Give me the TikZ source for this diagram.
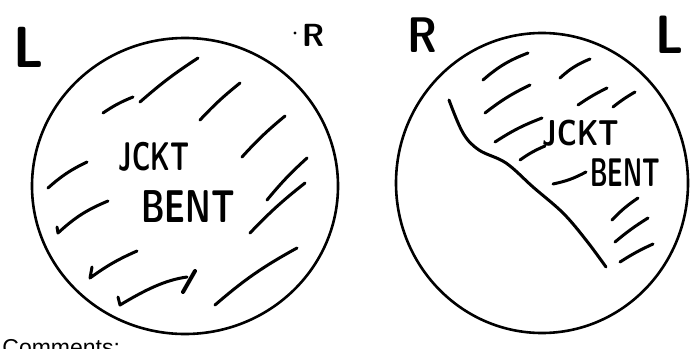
\documentclass[tikz,border=0pt]{standalone}
\usepackage{graphicx}
\usepackage{fontspec}
\newfontfamily\formfont{Liberation Sans}
\definecolor{ink}{RGB}{0,0,0}
\tikzset{
  rim/.style={ink, line width=2.6pt},
  hatch/.style={ink, line width=3pt, line cap=round, line join=round},
  scrawl/.style={ink, inner sep=0pt, font=\sffamily\bfseries\fontsize{#1}{#1}\selectfont},
  scrawl/.default=30
}
\newcommand{\narrow}[2]{\scalebox{#1}[1]{#2}}
\begin{document}
\begin{tikzpicture}[x=1pt, y=-1pt, thick]
\useasboundingbox (0,0) rectangle (692,348);

% left view
\draw[rim] (185,186) ellipse [x radius=153, y radius=148];
\node[scrawl=58] (leftL) at (29,47) {\narrow{0.9}{L}};
\fill[ink] (295,33) circle (1.6);
\node[scrawl=32] (leftR) at (313,35) {R};

\draw[hatch] (103,113) to[bend left=6] (133,97);
\draw[hatch] (140,102) to[bend left=4] (198,58);
\draw[hatch] (200,120) to[bend left=4] (240,83);
\draw[hatch] (242,157) to[bend left=4] (285,116);
\draw[hatch] (48,188) to[bend left=8] (87,162);
\draw[hatch] (267,200) to[bend left=4] (307,158);
\draw[hatch] (250,233) to[bend left=4] (305,183);
\draw[hatch] (215,305) to[bend left=6] (297,248);
\draw[hatch] (57,227) -- (58,233) to[bend left=10] (108,201);
\draw[hatch] (92,267) -- (90,278) to[bend left=6] (137,251);
\draw[hatch] (118,297) -- (120,305) .. controls (145,290) and (165,280) .. (187,277);
\draw[hatch, line width=4pt] (195,271) -- (183,292);

\node[scrawl=40] (leftjckt) at (154,157) {\narrow{0.65}{JCKT}};
\node[scrawl=46] (leftbent) at (188,207) {\narrow{0.7}{BENT}};

% right view
\draw[rim] (542,183) ellipse [x radius=146, y radius=150];
\node[scrawl=50] (rightR) at (422,35) {\narrow{0.85}{R}};
\node[scrawl=54] (rightL) at (670,35) {\narrow{0.9}{L}};

\draw[hatch] plot[smooth, tension=0.6] coordinates {(449,100) (463,133) (479,150) (506,163) (533,187) (563,213) (586,240) (606,267)};

\draw[hatch] (483,80) to[bend left=10] (528,53);
\draw[hatch] (560,78) to[bend left=10] (590,59);
\draw[hatch] (485,113) to[bend left=6] (530,85);
\draw[hatch] (578,105) to[bend left=4] (607,88);
\draw[hatch] (613,107) to[bend left=4] (635,92);
\draw[hatch] (495,142) to[bend left=6] (542,118);
\draw[hatch] (520,160) to[bend left=6] (545,146);
\draw[hatch] (553,184) to[bend right=8] (586,172);
\draw[hatch] (612,220) to[bend left=6] (638,198);
\draw[hatch] (615,242) to[bend left=4] (648,218);
\draw[hatch] (620,262) to[bend left=4] (653,244);

\node[scrawl=36] (rightjckt) at (581,133) {\narrow{0.78}{JCKT}};
\node[scrawl=40] (rightbent) at (625,173) {\narrow{0.6}{BENT}};

% form text below, cut by the page edge
\node[anchor=north west, inner sep=0pt, font=\formfont\fontsize{23}{23}\selectfont] (comments) at (2,339) {Comments:};
\end{tikzpicture}
\end{document}
